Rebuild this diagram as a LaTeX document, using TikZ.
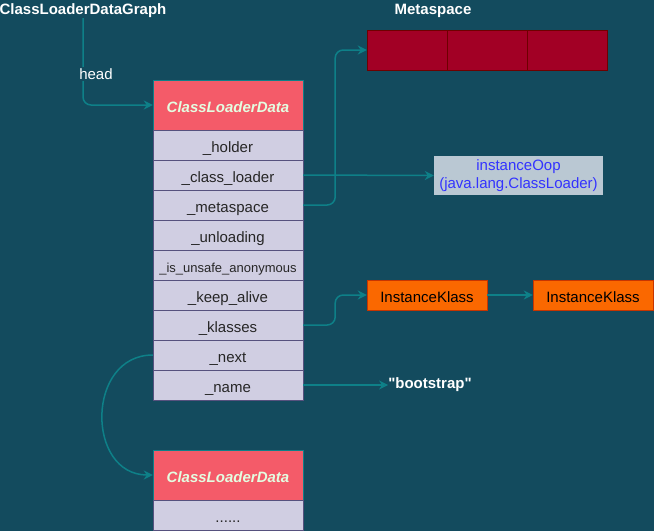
\documentclass[tikz,border=0pt]{standalone}
\usepackage{fontspec}
\setmainfont{Liberation Sans}[Ligatures=TeXOff]
\usetikzlibrary{arrows.meta}
\definecolor{bgblue}{HTML}{134B5E}
\definecolor{hdred}{HTML}{F45B69}
\definecolor{hdtext}{HTML}{E4FDE1}
\definecolor{rowfill}{HTML}{D0CEE2}
\definecolor{rowline}{HTML}{56517E}
\definecolor{linkteal}{HTML}{0E8088}
\definecolor{msred}{HTML}{A20025}
\definecolor{msline}{HTML}{6F0000}
\definecolor{ikorange}{HTML}{FA6800}
\definecolor{ikline}{HTML}{C73500}
\definecolor{oopfill}{HTML}{BAC8D3}
\definecolor{ooptext}{HTML}{3333FF}
\tikzset{
    every node/.style={font=\fontsize{15}{18}\selectfont, inner sep=0pt}
}
\tikzset{
    boxtext/.style={text height=15pt, text depth=1pt},
    header/.style={rectangle, boxtext, draw=linkteal, fill=hdred, text=hdtext,
        minimum width=150pt, minimum height=50pt,
        font=\fontsize{15}{18}\selectfont\bfseries\itshape},
    field/.style={rectangle, boxtext, draw=rowline, fill=rowfill, text=black!85,
        minimum width=150pt, minimum height=30pt},
    mscell/.style={rectangle, draw=msline, fill=msred,
        minimum width=80pt, minimum height=40pt},
    klassbox/.style={rectangle, boxtext, draw=ikline, fill=ikorange, text=black,
        minimum width=120pt, minimum height=30pt},
    title/.style={text=white, font=\fontsize{15}{18}\selectfont\bfseries}
}
\tikzset{
    link/.style={draw=linkteal, line width=1.5pt, rounded corners=8pt,
        -{Stealth[open, length=9pt, width=9pt]}}
}

\begin{document}
\begin{tikzpicture}[x=1pt, y=-1pt]
	\fill[bgblue] (0,0) rectangle (654,531);
	\useasboundingbox (0,0) rectangle (654,531);
	\node [title] (graph) at (83,11) {ClassLoaderDataGraph};
	\node [title] (mstitle) at (433,11) {Metaspace};
	\node [header] (cld) at (228,105) {ClassLoaderData};
	\node [field] (holder) at (228,145) {\_holder};
	\node [field] (classloader) at (228,175) {\_class\_loader};
	\node [field] (metaspace) at (228,205) {\_metaspace};
	\node [field] (unloading) at (228,235) {\_unloading};
	\node [field, font=\fontsize{13}{15}\selectfont] (unsafe) at (228,265) {\_is\_unsafe\_anonymous};
	\node [field] (keepalive) at (228,295) {\_keep\_alive};
	\node [field] (klasses) at (228,325) {\_klasses};
	\node [field] (next) at (228,355) {\_next};
	\node [field] (name) at (228,385) {\_name};
	\node [header] (cldnext) at (228,475) {ClassLoaderData};
	\node [field] (rest) at (228,515) {......};
	\node [mscell] (ms1) at (407,50) {};
	\node [mscell] (ms2) at (487,50) {};
	\node [mscell] (ms3) at (567,50) {};
	\node [rectangle, fill=oopfill, text=ooptext, minimum width=169pt,
		minimum height=39pt, align=center] (oop) at (518.5,175.5)
		{instanceOop\\(java.lang.ClassLoader)};
	\node [klassbox] (ik1) at (427,295) {InstanceKlass};
	\node [klassbox] (ik2) at (593,295) {InstanceKlass};
	\node [title] (bootstrap) at (430,385) {"bootstrap"};
	\draw [link] (graph.south) |- (cld.west);
	\node [fill=bgblue, text=white, inner sep=1pt] (head) at (96,74) {head};
	\draw [link] (classloader.east) -- (oop.west);
	\draw [link] (metaspace.east) -- ++(32,0) |- (ms1.west);
	\draw [link] (klasses.east) -- ++(32,0) |- (ik1.west);
	\draw [link] (ik1.east) -- (ik2.west);
	\draw [link] (name.east) -- (bootstrap.west);
	\draw [link] (next.west) .. controls +(-67,0) and +(-67,0) .. (cldnext.west);
\end{tikzpicture}
\end{document}
